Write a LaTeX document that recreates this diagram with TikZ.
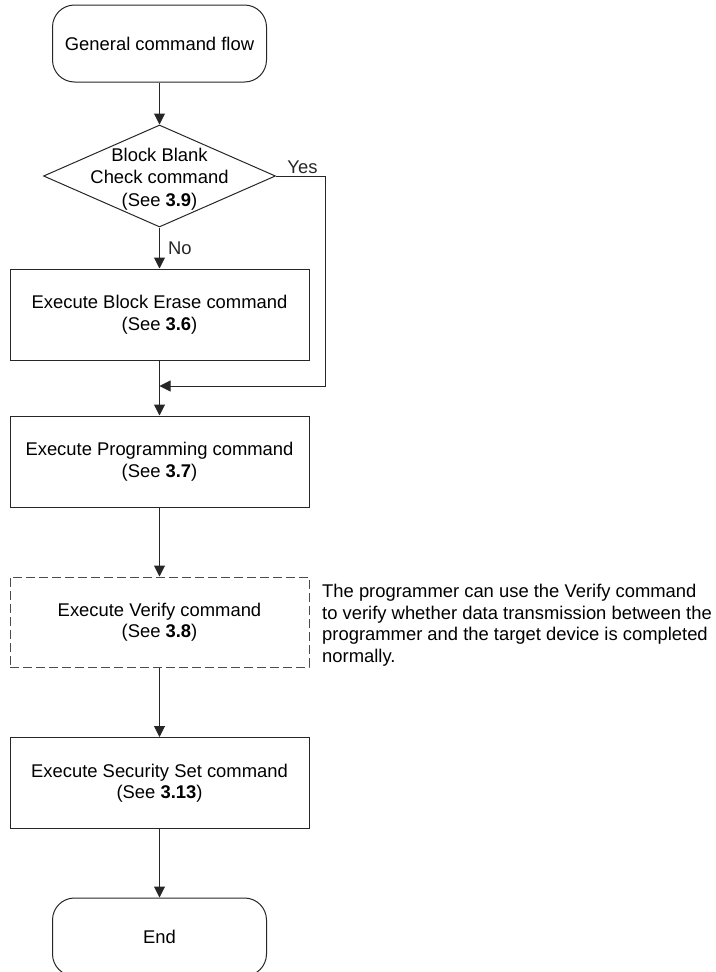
\documentclass[tikz,border=0pt]{standalone}
\usepackage{fontspec}
\setmainfont{Liberation Sans}
\usetikzlibrary{arrows.meta,
	positioning,
	shapes,
	shapes.geometric}

\tikzset{
	flowbox/.style={draw=black!85,line width=1pt,rectangle,minimum width=299pt,minimum height=91pt,align=center,inner sep=0pt},
	termbox/.style={draw=black!85,line width=1pt,rectangle,rounded corners=22pt,minimum width=214pt,minimum height=77pt,inner sep=0pt},
	flowarrow/.style={-{Triangle[length=11pt,width=11pt]},line width=1pt,black!85},
}

\begin{document}
\begin{tikzpicture}[x=1pt,y=-1pt,font=\fontsize{18.4}{21.5}\selectfont]

\clip (0,0) rectangle (715,972);% page

%boxes
\node[termbox] (start) at (159.5,43.5) {General command flow};

\node[draw=black!85,line width=1pt,diamond,minimum width=232pt,minimum height=102pt,inner sep=0pt] (check) at (159.5,176) {};
\node[align=center,inner sep=0pt,font=\fontsize{18.4}{22.5}\selectfont] (checktxt) at ([yshift=-3pt]check.center) {Block Blank\\Check command\\(See \textbf{3.9})};

\node[flowbox] (erase) at (159.5,314.5) {Execute Block Erase command\\(See \textbf{3.6})};
\node[flowbox] (prog) at (159.5,461.5) {Execute Programming command\\(See \textbf{3.7})};
\node[flowbox,minimum height=90pt,draw=black!70,dash pattern=on 9pt off 4pt] (verify) at (159.5,622) {Execute Verify command\\(See \textbf{3.8})};
\node[flowbox] (secset) at (159.5,783) {Execute Security Set command\\(See \textbf{3.13})};
\node[termbox,minimum height=78pt] (finish) at (159.5,937) {End};

%side note
\node[anchor=north west,align=left,inner sep=0pt] (note) at (322,584) {The programmer can use the Verify command\\to verify whether data transmission between the\\programmer and the target device is completed\\normally.};

%arrows
\coordinate (yesbend) at (325,176);
\coordinate (merge) at (159.5,386);

\draw[flowarrow] (start) -- (check);
\draw[flowarrow] (check) -- node[right=6pt,inner sep=2pt] (nolabel) {No} (erase);
\draw[flowarrow] (check.east) -- node[above,pos=0.54,inner sep=2pt] (yeslabel) {Yes} (yesbend) |- (merge);
\draw[flowarrow] (erase) -- (prog);
\draw[flowarrow] (prog) -- (verify);
\draw[flowarrow] (verify) -- (secset);
\draw[flowarrow] (secset) -- (finish);

\end{tikzpicture}
\end{document}
